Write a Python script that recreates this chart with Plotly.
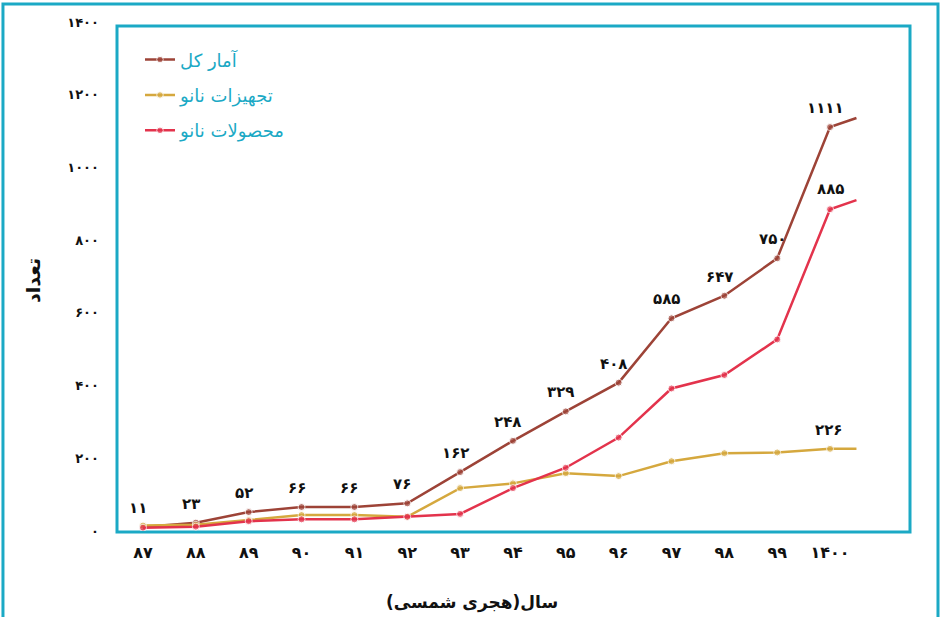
import plotly.graph_objects as go

# ---------------- data ----------------
year_labels = ["۸۷", "۸۸", "۸۹", "۹۰", "۹۱", "۹۲", "۹۳", "۹۴", "۹۵", "۹۶", "۹۷", "۹۸", "۹۹", "۱۴۰۰"]
year_pos = [0, 1, 2, 3, 4, 5, 6, 7, 8, 9, 10, 11, 12, 13]
tail_pos = 13.5  # lines continue half a step past 1400 without a marker

total = [11, 23, 52, 66, 66, 76, 162, 248, 329, 408, 585, 647, 750, 1111]
total_tail = 1136
equipment = [15, 17, 30, 44, 44, 39, 118, 131, 159, 151, 192, 214, 216, 226]
equipment_tail = 226
products = [9, 12, 27, 32, 32, 39, 47, 118, 174, 257, 392, 429, 527, 885]
products_tail = 910

y_ticks = [0, 200, 400, 600, 800, 1000, 1200, 1400]

names = ["آمار کل", "تجهیزات نانو", "محصولات نانو"]
x_title = "سال(هجری شمسی)"
y_title = "تعداد"

# ---------------- helpers ----------------
FA = str.maketrans("0123456789", "۰۱۲۳۴۵۶۷۸۹")


def fa(n):
    return str(n).translate(FA)


def b(s):
    return "<b>" + s + "</b>"


BROWN = "#9d4337"
GOLD = "#d5a83e"
RED = "#e3334c"
CYAN = "#1ba9c5"
FONT = "DejaVu Sans"

fig = go.Figure()
series = [
    (names[0], total, total_tail, BROWN),
    (names[1], equipment, equipment_tail, GOLD),
    (names[2], products, products_tail, RED),
]
for i, (nm, vals, tail, col) in enumerate(series):
    fig.add_trace(go.Scatter(
        x=year_pos + [tail_pos],
        y=vals + [tail],
        name=nm,
        legendgroup=f"g{i}",
        mode="lines+markers",
        line=dict(color=col, width=2.5),
        marker=dict(color=col, size=[7] * len(vals) + [0]),
        hoverinfo="x+y",
    ))

lab_font = dict(family=FONT, size=15, color="#111")
annotations = []
for xi, v in zip(year_pos, total):
    annotations.append(dict(x=xi, y=v, xref="x", yref="y", text=b(fa(v)), showarrow=False,
                            yshift=19, xshift=-5, font=lab_font))
annotations.append(dict(x=year_pos[-1], y=products[-1], xref="x", yref="y", text=b(fa(products[-1])),
                        showarrow=False, yshift=20, xshift=0, font=lab_font))
annotations.append(dict(x=year_pos[-1], y=equipment[-1], xref="x", yref="y", text=b(fa(equipment[-1])),
                        showarrow=False, yshift=19, xshift=-2, font=lab_font))

# axis titles
annotations.append(dict(x=-0.106, y=0.493, xref="paper", yref="paper", xanchor="center", yanchor="middle",
                        text=b(y_title), textangle=-90, showarrow=False,
                        font=dict(family=FONT, size=19, color="#111")))
annotations.append(dict(x=0.4477, y=-0.1395, xref="paper", yref="paper", xanchor="center", yanchor="middle",
                        text=b(x_title), showarrow=False,
                        font=dict(family=FONT, size=17, color="#111")))

shapes = [
    dict(type="rect", xref="paper", yref="paper", x0=0, x1=1, y0=-0.002, y1=0.992,
         line=dict(color=CYAN, width=3), layer="below"),
    dict(type="rect", xref="paper", yref="paper", x0=-0.1438, x1=1.0353, y0=-0.2, y1=1.0354,
         line=dict(color=CYAN, width=3), layer="below"),
]

fig.update_layout(
    width=941, height=617,
    margin=dict(l=117, r=31, t=22, b=86),
    paper_bgcolor="white", plot_bgcolor="white",
    font=dict(family=FONT, color="#111"),
    showlegend=True,
    legend=dict(x=0.029, y=0.962, xanchor="left", yanchor="top",
                font=dict(family=FONT, size=18, color=CYAN),
                bgcolor="rgba(0,0,0,0)", tracegroupgap=9),
    xaxis=dict(range=[-0.492, 14.513], tickmode="array", tickvals=year_pos,
               ticktext=[b(t) for t in year_labels],
               showgrid=False, zeroline=False, showline=False, ticks="",
               ticklabelstandoff=10, tickfont=dict(family=FONT, size=16, color="#111")),
    yaxis=dict(range=[0, 1400], tickmode="array", tickvals=y_ticks, ticktext=[b(fa(t)) for t in y_ticks],
               showgrid=False, zeroline=False, showline=False, ticks="",
               ticklabelstandoff=17, tickfont=dict(family=FONT, size=13, color="#111")),
    annotations=annotations,
    shapes=shapes,
)

fig.write_html("out.html", config={"displayModeBar": False},
               post_script="document.body.style.margin='0';")
